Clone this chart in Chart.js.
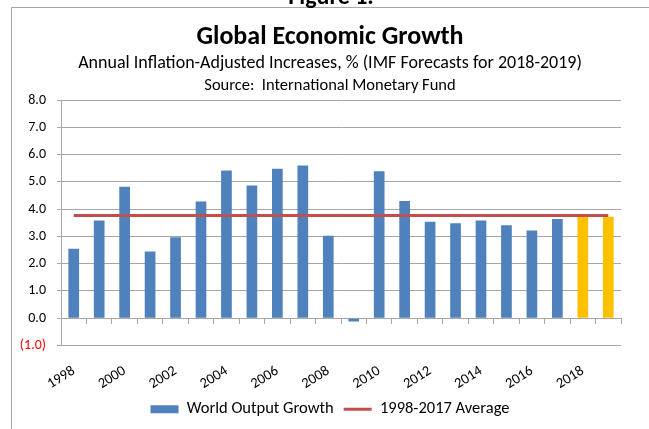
<!DOCTYPE html>
<html>
<head>
<meta charset="utf-8">
<script src="https://cdn.jsdelivr.net/npm/chart.js@4/dist/chart.umd.min.js"></script>
<style>
  html, body { margin: 0; padding: 0; background: #fff; }
  #wrap { width: 649px; height: 429px; }
</style>
</head>
<body>
<div id="wrap"><canvas id="myChart" width="649" height="429"></canvas></div>
<script>
var years = ['1998', '1999', '2000', '2001', '2002', '2003', '2004', '2005', '2006', '2007', '2008',
  '2009', '2010', '2011', '2012', '2013', '2014', '2015', '2016', '2017', '2018', '2019'];
var worldGrowth = [2.55, 3.58, 4.82, 2.45, 2.97, 4.28, 5.42, 4.87, 5.48, 5.60, 3.02,
  -0.12, 5.39, 4.30, 3.54, 3.48, 3.58, 3.41, 3.22, 3.64, 3.72, 3.72];
var averageLine = [3.77, 3.77, 3.77, 3.77, 3.77, 3.77, 3.77, 3.77, 3.77, 3.77, 3.77,
  3.77, 3.77, 3.77, 3.77, 3.77, 3.77, 3.77, 3.77, 3.77, 3.77, 3.77];
var forecastYears = ['2018', '2019'];

var FONT = 'Carlito, Lato, sans-serif';
var BLUE = '#4F81BD';
var GOLD = '#FFC000';
var RED = '#C0504D';
var GRID = '#A6A6A6';

Chart.defaults.font.family = FONT;
Chart.defaults.color = '#000';

// frame, cut-off "Figure 1." heading and the source line
var decorations = {
  id: 'decorations',
  afterDraw: function(chart) {
    var ctx = chart.ctx;
    ctx.save();
    ctx.strokeStyle = GRID;
    ctx.lineWidth = 1;
    ctx.beginPath();
    ctx.moveTo(11.5, 429);
    ctx.lineTo(11.5, 7.5);
    ctx.lineTo(649, 7.5);
    ctx.stroke();
    ctx.fillStyle = '#000';
    ctx.textAlign = 'center';
    ctx.textBaseline = 'alphabetic';
    ctx.font = 'bold 24px ' + FONT;
    ctx.fillText('Figure 1.', 331, 4);
    ctx.font = '16.5px ' + FONT;
    ctx.fillText('Source:  International Monetary Fund', 330, 90);
    ctx.restore();
  }
};

var ctx = document.getElementById('myChart').getContext('2d');
var myChart = new Chart(ctx, {
  type: 'bar',
  data: {
    labels: years,
    datasets: [
      {
        type: 'line',
        label: '1998-2017 Average',
        data: averageLine,
        borderColor: RED,
        backgroundColor: RED,
        borderWidth: 3,
        pointRadius: 0,
        pointStyle: 'line',
        order: 0
      },
      {
        label: 'World Output Growth',
        data: worldGrowth,
        backgroundColor: function(c) {
          return forecastYears.indexOf(years[c.dataIndex]) >= 0 ? GOLD : BLUE;
        },
        borderWidth: 0,
        pointStyle: 'rect',
        barPercentage: 0.42,
        categoryPercentage: 1,
        order: 1
      }
    ]
  },
  options: {
    responsive: false,
    animation: false,
    layout: { padding: { top: 0, left: 11, right: 0, bottom: 1.5 } },
    plugins: {
      title: {
        display: true,
        text: 'Global Economic Growth',
        font: { size: 26, weight: 'bold', lineHeight: 1 },
        color: '#000',
        padding: { top: 24.5, bottom: 0 }
      },
      subtitle: {
        display: true,
        text: 'Annual Inflation-Adjusted Increases, % (IMF Forecasts for 2018-2019)',
        font: { size: 18, lineHeight: 1 },
        color: '#000',
        padding: { top: 3.5, bottom: 28 }
      },
      legend: {
        position: 'bottom',
        reverse: true,
        labels: {
          usePointStyle: true,
          pointStyleWidth: 28,
          boxHeight: 8,
          padding: 10,
          color: '#000',
          font: { size: 16.5 }
        }
      },
      tooltip: { enabled: false }
    },
    scales: {
      x: {
        grid: { display: false },
        border: { display: false },
        ticks: {
          autoSkip: false,
          maxRotation: 32,
          minRotation: 32,
          padding: 9,
          font: { size: 14.5 },
          callback: function(v, i) { return i % 2 === 0 ? years[i] : ''; }
        },
        afterFit: function(s) { s.height = 45.5; }
      },
      x2: {
        type: 'category',
        position: { y: 0 },
        offset: true,
        grid: { offset: true, drawOnChartArea: false, drawTicks: true, tickLength: 5, color: GRID },
        border: { display: true, color: GRID },
        ticks: { display: false },
        afterFit: function(s) { s.height = 0; }
      },
      y: {
        min: -1,
        max: 8,
        grid: { color: GRID, tickLength: 4 },
        border: { color: GRID },
        ticks: {
          stepSize: 1,
          padding: 11,
          font: { size: 14 },
          color: function(c) { return c.tick.value < 0 ? '#FF0000' : '#000'; },
          callback: function(v) { return v < 0 ? '(' + Math.abs(v).toFixed(1) + ')' : v.toFixed(1); }
        },
        afterFit: function(s) { s.width = 50; }
      },
      // empty right-hand box that keeps the plot clear of the right edge
      yRight: {
        type: 'linear',
        position: 'right',
        grid: { drawOnChartArea: false, drawTicks: false },
        border: { display: false },
        ticks: { display: false },
        afterFit: function(s) { s.width = 28; }
      }
    }
  },
  plugins: [decorations]
});
</script>
</body>
</html>
